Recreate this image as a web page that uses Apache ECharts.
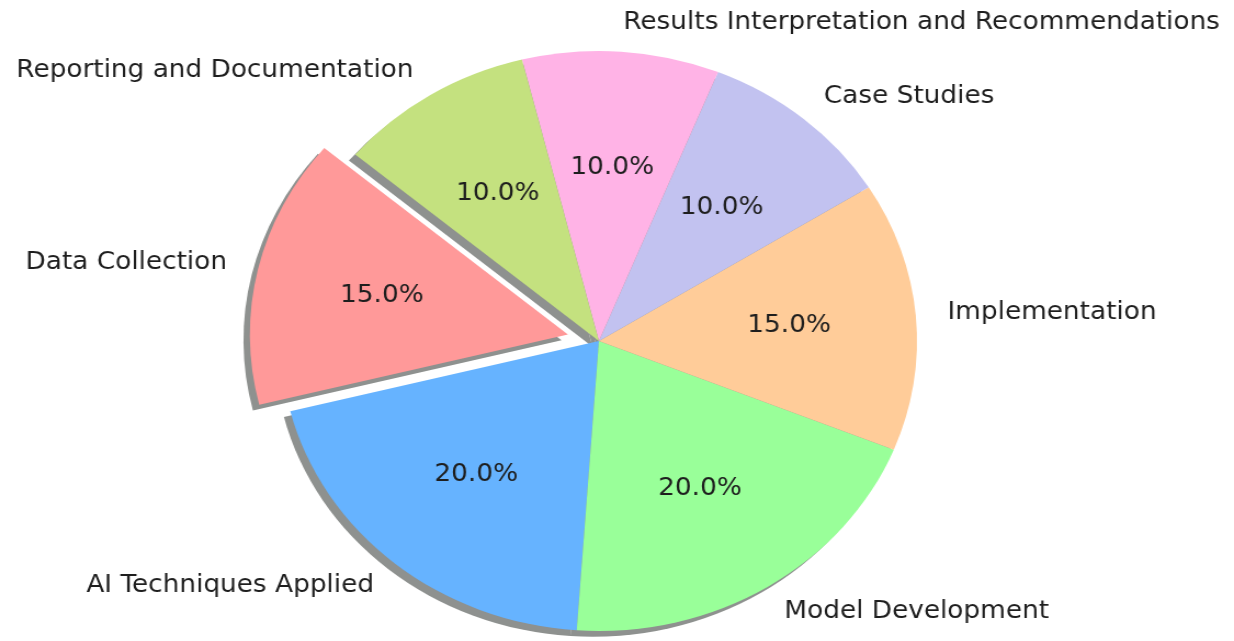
<!DOCTYPE html>
<html>
<head>
<meta charset="utf-8">
<script src="https://cdn.jsdelivr.net/npm/echarts@6/dist/echarts.min.js"></script>
<style>
  html, body { margin: 0; padding: 0; background: #fff; overflow: hidden; width: 1234px; height: 641px; }
  #chart { width: 1125px; height: 641px; transform: scaleX(1.0969); transform-origin: 0 0; }
</style>
</head>
<body>
<div id="chart"></div>
<script>
const categories = ['Data Collection', 'AI Techniques Applied', 'Model Development', 'Implementation',
                    'Case Studies', 'Results Interpretation and Recommendations', 'Reporting and Documentation'];
const values = [15, 20, 20, 15, 10, 10, 10];
const colors = ['#ff9999', '#66b3ff', '#99ff99', '#ffcc99', '#c2c2f0', '#ffb3e6', '#c4e17f'];
const exploded = [true, false, false, false, false, false, false];

const R = 290;            // pie radius (px)
const CX = 546, CY = 341; // centre
const EXPLODE = 0.1 * R;
const SHADOW = 0.02 * R;
const FONT = 'DejaVu Sans';
const FONT_SIZE = 24;

const total = values.reduce((a, b) => a + b, 0);

function makeData(colorFn) {
  return categories.map((name, i) => ({
    name: name,
    value: values[i],
    selected: exploded[i],
    itemStyle: { color: colorFn(i) }
  }));
}

const common = {
  type: 'pie',
  startAngle: 140,
  clockwise: false,
  selectedMode: 'multiple',
  selectedOffset: EXPLODE,
  avoidLabelOverlap: false,
  animation: false,
  emphasis: { disabled: true },
  select: { itemStyle: {} },
  labelLine: { show: false }
};

const option = {
  animation: false,
  series: [
    Object.assign({}, common, {
      name: 'shadow',
      z: 1,
      silent: true,
      center: [CX - SHADOW, CY + SHADOW],
      radius: [0, R],
      label: { show: false },
      itemStyle: { borderWidth: 0 },
      data: makeData(() => '#8e918f')
    }),
    Object.assign({}, common, {
      name: 'main',
      z: 2,
      center: [CX, CY],
      radius: [0, R],
      itemStyle: { borderWidth: 0 },
      label: {
        show: true,
        position: 'outside',
        formatter: '{b}',
        fontFamily: FONT,
        fontSize: FONT_SIZE,
        color: '#1e1e1e',
        distanceToLabelLine: 0,
        bleedMargin: 0,
        overflow: 'none'
      },
      labelLine: { show: false, length: 0.1 * R, length2: 0 },
      data: makeData(i => colors[i])
    }),
    Object.assign({}, common, {
      name: 'pct',
      z: 3,
      silent: true,
      center: [CX, CY],
      radius: [0, 2 * (0.6 * R - 3)],
      itemStyle: { borderWidth: 0, opacity: 0 },
      label: {
        show: true,
        position: 'inside',
        formatter: p => (p.value / total * 100).toFixed(1) + '%',
        fontFamily: FONT,
        fontSize: FONT_SIZE,
        color: '#1e1e1e',
        opacity: 1
      },
      data: makeData(() => 'rgba(0,0,0,0)')
    })
  ]
};

const chart = echarts.init(document.getElementById('chart'), null, { renderer: 'canvas' });
chart.setOption(option);
</script>
</body>
</html>
